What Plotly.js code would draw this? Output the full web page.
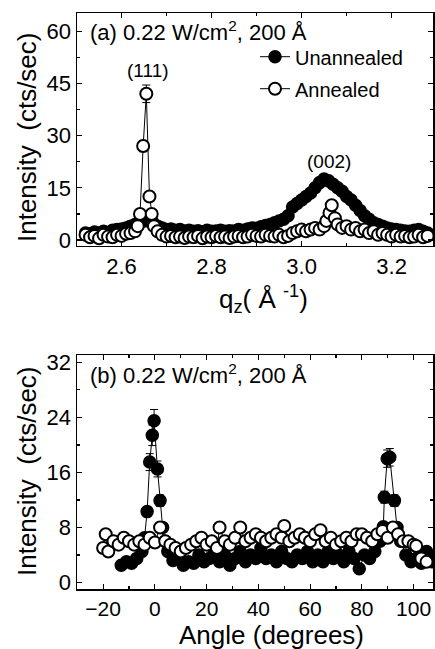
<!DOCTYPE html>
<html>
<head>
<meta charset="utf-8">
<script src="https://cdn.plot.ly/plotly-3.0.1.min.js"></script>
<style>html,body{margin:0;padding:0;background:#fff;}#chart{width:435px;height:649px;}</style>
</head>
<body>
<div id="chart"></div>
<script>
// Panel (a): q_z scan
const qUnannealed = [2.52,2.53,2.54,2.55,2.56,2.57,2.58,2.59,2.60,2.61,2.62,2.63,2.64,2.65,2.66,2.67,2.68,2.69,2.70,2.71,2.72,2.73,2.74,2.75,2.76,2.77,2.78,2.79,2.80,2.81,2.82,2.83,2.84,2.85,2.86,2.87,2.88,2.89,2.90,2.91,2.92,2.93,2.94,2.95,2.96,2.97,2.98,2.99,3.00,3.01,3.02,3.03,3.04,3.05,3.06,3.07,3.08,3.09,3.10,3.11,3.12,3.13,3.14,3.15,3.16,3.17,3.18,3.19,3.20,3.21,3.22,3.23,3.24,3.25,3.26,3.27,3.28];
const iUnannealed = [2.0,1.8,2.3,2.0,2.5,2.2,2.8,3.0,3.2,3.5,4.0,4.5,5.0,5.5,5.5,5.0,4.0,3.5,3.0,3.2,2.8,3.0,2.6,2.8,2.5,2.7,2.4,2.8,2.5,2.6,2.8,2.5,2.7,2.6,3.0,2.8,3.2,3.5,3.4,3.8,4.2,4.5,5.0,5.5,6.0,7.0,9.5,10.5,11.5,12.5,13.5,15.0,16.5,17.5,17.0,16.0,15.0,14.0,12.5,11.5,10.0,8.5,7.0,6.0,5.0,4.5,4.0,3.5,3.2,3.0,2.8,2.6,2.5,2.8,3.0,2.5,2.0];
const qAnnealed = [2.52,2.53,2.54,2.55,2.56,2.57,2.58,2.59,2.60,2.61,2.62,2.63,2.636,2.641,2.648,2.655,2.662,2.667,2.672,2.68,2.69,2.70,2.71,2.72,2.73,2.74,2.75,2.76,2.77,2.78,2.79,2.80,2.81,2.82,2.83,2.84,2.85,2.86,2.87,2.88,2.89,2.90,2.91,2.92,2.93,2.94,2.95,2.96,2.97,2.98,2.99,3.00,3.01,3.02,3.03,3.04,3.05,3.055,3.062,3.067,3.074,3.08,3.09,3.10,3.11,3.12,3.13,3.14,3.15,3.16,3.17,3.18,3.19,3.20,3.21,3.22,3.23,3.24,3.25,3.26,3.27,3.28];
const iAnnealed = [1.5,0.8,1.2,0.5,1.5,1.0,0.8,1.5,1.2,1.8,2.0,2.5,4.0,7.5,27.0,42.0,12.5,7.5,4.0,2.5,1.5,1.0,1.2,0.8,1.0,0.6,1.0,0.8,1.2,0.5,1.0,0.8,1.2,0.8,1.0,0.6,1.0,1.2,0.8,1.0,1.5,1.2,1.0,1.5,1.2,1.0,1.5,0.8,1.2,2.0,2.5,3.0,2.5,3.0,3.5,3.0,4.0,5.5,7.8,10.0,6.3,4.5,3.5,4.0,3.0,3.5,2.5,3.0,2.0,2.5,1.5,2.0,1.5,1.0,1.5,1.0,1.2,0.8,1.0,1.5,0.8,1.2];

// Panel (b): angle scan
const angUnannealed = [-13,-11,-9,-7,-5,-4,-3,-2,-1,-0.3,1,2,3,4,5,7,9,11,13,15,17,19,21,23,25,27,29,31,33,35,37,39,41,43,45,47,49,51,53,55,57,59,61,63,65,67,69,71,73,75,77,79,81,83,85,87,88.3,88.7,89.8,90.8,92.6,93.6,95,97,99,101,103,105,107];
const bUnannealed = [2.5,3.0,2.8,3.5,4.5,6.5,10.3,17.5,21.4,23.5,16.5,11.9,8.0,6.0,4.5,3.2,3.5,2.5,3.0,2.8,4.0,3.0,3.5,4.5,3.0,4.0,2.5,3.5,4.5,3.0,4.0,3.5,5.0,3.5,4.0,3.0,4.5,3.5,3.0,4.0,3.5,4.5,3.0,4.0,3.0,4.5,3.5,4.0,3.0,4.5,3.5,2.0,4.0,3.5,4.5,6.0,8.1,12.4,18.0,18.2,11.9,8.0,6.0,4.0,3.0,3.5,2.8,4.5,3.0];
const angAnnealed = [-20,-19,-18,-16,-14,-12,-10,-8,-6,-4,-2,0,2,4,6,8,10,12,14,16,18,20,22,24,25,27,29,31,33,35,37,39,41,43,45,47,49,50,52,54,56,58,60,62,64,66,68,70,72,74,76,78,80,82,84,86,88,90,92,94,96,98,100,101,103,105];
const bAnnealed = [5.0,7.0,4.5,6.0,5.5,6.5,6.0,5.5,6.0,5.5,6.5,5.8,8.0,6.0,5.5,5.0,4.5,5.0,5.5,6.0,6.5,5.5,6.0,5.0,8.0,6.0,5.5,6.5,8.0,6.0,6.5,7.0,6.5,6.0,6.5,7.0,6.5,8.2,6.0,6.5,7.0,6.5,6.0,7.0,7.6,6.0,6.5,5.5,6.0,6.5,6.0,7.0,7.0,6.5,6.0,7.0,7.5,6.5,8.0,7.0,6.0,6.0,5.5,5.3,3.5,3.0];

const seriesNames = ['Unannealed', 'Annealed'];
const labelA = '(a) 0.22 W/cm<sup>2</sup>, 200 Å';
const labelB = '(b) 0.22 W/cm<sup>2</sup>, 200 Å';
const peakLabels = ['(111)', '(002)'];
const peakPos = [[2.658, 48.6], [3.061, 22.7]];
const xTitleA = 'q<sub>z</sub>( Å <sup>-1</sup>)';
const xTitleB = 'Angle (degrees)';
const yTitle = 'Intensity  (cts/sec)';

const FONT = 'Liberation Sans, Arial, sans-serif';
const filledMarker = {symbol: 'circle', size: 12, color: 'black', line: {color: 'black', width: 1.5}};
const openMarker = {symbol: 'circle', size: 12, color: 'white', line: {color: 'black', width: 2}};

const traces = [
  {x: qUnannealed, y: iUnannealed, name: seriesNames[0], legendgroup: 'u', type: 'scatter', mode: 'lines+markers',
   line: {color: 'black', width: 1}, marker: filledMarker, xaxis: 'x', yaxis: 'y',
   error_y: {type: 'percent', value: 6, width: 4, thickness: 1, color: 'black'}},
  {x: qAnnealed, y: iAnnealed, name: seriesNames[1], legendgroup: 'a', type: 'scatter', mode: 'lines+markers',
   line: {color: 'black', width: 1}, marker: openMarker, xaxis: 'x', yaxis: 'y',
   error_y: {type: 'percent', value: 6, width: 4, thickness: 1, color: 'black'}},
  {x: angUnannealed, y: bUnannealed, name: seriesNames[0], legendgroup: 'u', type: 'scatter', mode: 'lines+markers',
   line: {color: 'black', width: 1}, marker: filledMarker, xaxis: 'x2', yaxis: 'y2', showlegend: false,
   error_y: {type: 'percent', value: 7, width: 4, thickness: 1, color: 'black'}},
  {x: angAnnealed, y: bAnnealed, name: seriesNames[1], legendgroup: 'a', type: 'scatter', mode: 'lines+markers',
   line: {color: 'black', width: 1}, marker: openMarker, xaxis: 'x2', yaxis: 'y2', showlegend: false,
   error_y: {type: 'percent', value: 9, width: 4, thickness: 1, color: 'black'}}
];

const axisCommon = {
  showgrid: false, zeroline: false, showline: true, linecolor: 'black', linewidth: 1.5,
  mirror: 'ticks', ticks: 'inside', ticklen: 5, tickwidth: 1.2, tickcolor: 'black',
  tickfont: {family: FONT, size: 22, color: 'black'}, ticklabelstandoff: 0
};
const titleFont = {family: FONT, size: 26, color: 'black'};

const layout = {
  width: 435, height: 649,
  margin: {l: 77, r: 2, t: 13, b: 60},
  paper_bgcolor: 'white', plot_bgcolor: 'white',
  font: {family: FONT, color: 'black'},
  showlegend: true,
  legend: {x: 0.50, y: 0.958, xanchor: 'left', yanchor: 'top', bgcolor: 'rgba(0,0,0,0)',
           font: {family: FONT, size: 20, color: 'black'}, itemwidth: 30, tracegroupgap: 3},
  xaxis: Object.assign({}, axisCommon, {
    domain: [0, 1], anchor: 'y', range: [2.501, 3.292], dtick: 0.2, tick0: 2.6, tickformat: '.1f',
    minor: {dtick: 0.1, ticks: 'inside', ticklen: 3, tickcolor: 'black'}
  }),
  yaxis: Object.assign({}, axisCommon, {
    domain: [0.5955, 1], anchor: 'x', range: [-1.7, 65.2], dtick: 15, tick0: 0,
    minor: {dtick: 7.5, ticks: 'inside', ticklen: 3, tickcolor: 'black'}
  }),
  xaxis2: Object.assign({}, axisCommon, {
    domain: [0, 1], anchor: 'y2', range: [-30.1, 107.5], dtick: 20, tick0: 0,
    tickfont: {family: FONT, size: 21, color: 'black'},
    minor: {dtick: 10, ticks: 'inside', ticklen: 3, tickcolor: 'black'}
  }),
  yaxis2: Object.assign({}, axisCommon, {
    domain: [0, 0.40625], anchor: 'x2', range: [-0.95, 33.07], dtick: 8, tick0: 0,
    minor: {dtick: 4, ticks: 'inside', ticklen: 3, tickcolor: 'black'}
  }),
  annotations: [
    {text: labelA, xref: 'paper', yref: 'paper', x: 0.031, y: 0.9688, xanchor: 'left', yanchor: 'middle',
     showarrow: false, font: {family: FONT, size: 22, color: 'black'}},
    {text: labelB, xref: 'paper', yref: 'paper', x: 0.031, y: 0.3733, xanchor: 'left', yanchor: 'middle',
     showarrow: false, font: {family: FONT, size: 22, color: 'black'}},
    {text: peakLabels[0], xref: 'x', yref: 'y', x: peakPos[0][0], y: peakPos[0][1], showarrow: false,
     font: {family: FONT, size: 19, color: 'black'}},
    {text: peakLabels[1], xref: 'x', yref: 'y', x: peakPos[1][0], y: peakPos[1][1], showarrow: false,
     font: {family: FONT, size: 19, color: 'black'}},
    {text: xTitleA, xref: 'paper', yref: 'paper', x: 0.5225, y: 0.5035, xanchor: 'center', yanchor: 'middle',
     showarrow: false, font: titleFont},
    {text: xTitleB, xref: 'paper', yref: 'paper', x: 0.545, y: -0.0799, xanchor: 'center', yanchor: 'middle',
     showarrow: false, font: titleFont},
    {text: yTitle, xref: 'paper', yref: 'paper', x: -0.1404, y: 0.7847, xanchor: 'center', yanchor: 'middle',
     textangle: -90, showarrow: false, font: titleFont},
    {text: yTitle, xref: 'paper', yref: 'paper', x: -0.1404, y: 0.2049, xanchor: 'center', yanchor: 'middle',
     textangle: -90, showarrow: false, font: titleFont}
  ]
};

Plotly.newPlot('chart', traces, layout, {displayModeBar: false, staticPlot: true});
</script>
</body>
</html>
